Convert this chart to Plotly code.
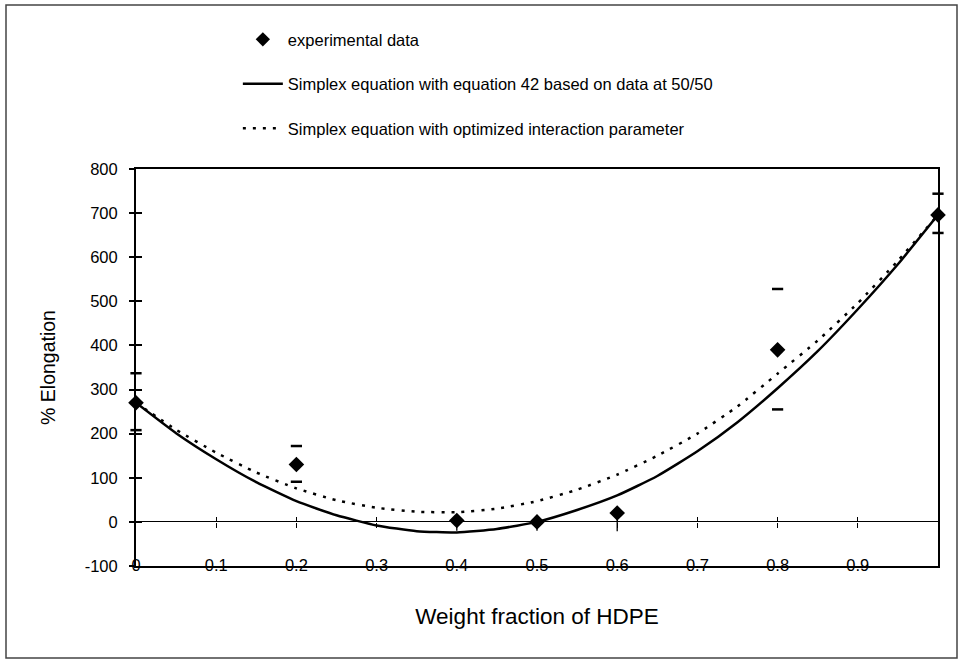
import plotly.graph_objects as go

# ---- data ----
exp_x = [0.0, 0.2, 0.4, 0.5, 0.6, 0.8, 1.0]
exp_y = [270, 130, 3, 0, 20, 390, 696]
exp_err_hi = [67, 42, None, None, None, 138, 48]
exp_err_lo = [62, 39, None, None, None, 135, 41]
exp_stem = [0, 0, 23, 20, 41, 0, 0]

curve_x = [0.0, 0.05, 0.1, 0.15, 0.2, 0.25, 0.3, 0.35, 0.4, 0.45, 0.5,
           0.55, 0.6, 0.65, 0.7, 0.75, 0.8, 0.85, 0.9, 0.95, 1.0]
eq42_y = [270, 201, 142, 90, 47, 15, -8, -21, -24, -16, 0,
          27, 60, 104, 160, 226, 303, 387, 482, 584, 696]
opt_y = [270, 209, 157, 112, 76, 49, 32, 23, 22, 30, 47,
         73, 107, 150, 200, 262, 336, 411, 496, 592, 696]

x_tick_vals = [0, 0.1, 0.2, 0.3, 0.4, 0.5, 0.6, 0.7, 0.8, 0.9]
x_tick_text = ["0", "0.1", "0.2", "0.3", "0.4", "0.5", "0.6", "0.7", "0.8", "0.9"]
y_tick_vals = [-100, 0, 100, 200, 300, 400, 500, 600, 700, 800]
y_tick_text = ["-100", "0", "100", "200", "300", "400", "500", "600", "700", "800"]

FONT = "Arial, Liberation Sans, sans-serif"

fig = go.Figure()

# legend entry for experimental points
fig.add_trace(go.Scatter(x=[None], y=[None], mode="markers",
                         marker=dict(symbol="diamond", size=11, color="black"),
                         name="experimental data", legendgroup="a"))

# model curves
fig.add_trace(go.Scatter(x=curve_x, y=eq42_y, mode="lines",
                         line=dict(color="black", width=2.5, shape="spline", smoothing=0.5),
                         name="Simplex equation with equation 42 based on data at 50/50",
                         legendgroup="b", hoverinfo="skip"))
fig.add_trace(go.Scatter(x=curve_x, y=opt_y, mode="lines",
                         line=dict(color="black", width=2.5, dash="3px,7px",
                                   shape="spline", smoothing=0.5),
                         name="Simplex equation with optimized interaction parameter",
                         legendgroup="c", hoverinfo="skip"))

# stems below small points
fig.add_trace(go.Scatter(x=exp_x, y=exp_y, mode="markers",
                         marker=dict(size=1, color="rgba(0,0,0,0)"),
                         error_y=dict(type="data", symmetric=False,
                                      array=[0] * len(exp_x), arrayminus=exp_stem,
                                      color="black", thickness=1.3, width=0),
                         showlegend=False, hoverinfo="skip"))

# error caps (drawn as short dashes)
cap_x, cap_y = [], []
for xv, yv, hi, lo in zip(exp_x, exp_y, exp_err_hi, exp_err_lo):
    if hi is not None:
        cap_x += [xv, xv]
        cap_y += [yv + hi, yv - lo]
fig.add_trace(go.Scatter(x=cap_x, y=cap_y, mode="markers",
                         marker=dict(symbol="line-ew", size=8,
                                     line=dict(color="black", width=2.5)),
                         showlegend=False, hoverinfo="skip", cliponaxis=False))

# experimental points
fig.add_trace(go.Scatter(x=exp_x, y=exp_y, mode="markers",
                         marker=dict(symbol="diamond", size=12, color="black"),
                         name="experimental data", legendgroup="a",
                         showlegend=False, cliponaxis=False))

# dummy traces so overlay axes (crossing ticks) are drawn
fig.add_trace(go.Scatter(x=[None], y=[None], xaxis="x2", showlegend=False, hoverinfo="skip"))
fig.add_trace(go.Scatter(x=[None], y=[None], xaxis="x3", showlegend=False, hoverinfo="skip"))
fig.add_trace(go.Scatter(x=[None], y=[None], yaxis="y2", showlegend=False, hoverinfo="skip"))

zero_pos = (0 - (-100)) / 900.0

fig.update_layout(
    width=959, height=660,
    margin=dict(l=136, r=21, t=169, b=94),
    paper_bgcolor="white", plot_bgcolor="white",
    font=dict(family=FONT, color="black"),
    showlegend=True,
    legend=dict(x=0.127, y=1.37, xanchor="left", yanchor="top",
                font=dict(size=16.5, family=FONT, color="black"), tracegroupgap=20,
                bgcolor="rgba(0,0,0,0)", itemwidth=40),
    xaxis=dict(range=[0, 1], showgrid=False, zeroline=False,
               showline=True, linecolor="black", linewidth=2, mirror=True,
               tickvals=x_tick_vals, ticktext=x_tick_text, ticks="",
               ticklabelstandoff=-17,
               tickfont=dict(size=16.5, family=FONT, color="black"),
               title=dict(text="Weight fraction of HDPE",
                          font=dict(size=22.5, family=FONT, color="black"),
                          standoff=35)),
    xaxis2=dict(range=[0, 1], overlaying="x", anchor="free", position=zero_pos,
                showgrid=False, zeroline=False, showline=False,
                tickvals=x_tick_vals[1:], ticks="outside", ticklen=5,
                tickwidth=1, tickcolor="black", showticklabels=False),
    xaxis3=dict(range=[0, 1], overlaying="x", anchor="free", position=zero_pos,
                showgrid=False, zeroline=False, showline=False,
                tickvals=x_tick_vals[1:], ticks="inside", ticklen=5,
                tickwidth=1, tickcolor="black", showticklabels=False),
    yaxis=dict(range=[-100, 800], showgrid=False,
               zeroline=True, zerolinecolor="black", zerolinewidth=1,
               showline=True, linecolor="black", linewidth=2, mirror=True,
               tickvals=y_tick_vals, ticktext=y_tick_text, ticks="inside", ticklen=6,
               tickwidth=1.5, tickcolor="black",
               tickfont=dict(size=16.5, family=FONT, color="black"),
               ticklabelstandoff=13,
               title=dict(text="% Elongation",
                          font=dict(size=19.5, family=FONT, color="black"),
                          standoff=24)),
    yaxis2=dict(range=[-100, 800], overlaying="y", showgrid=False, zeroline=False,
                showline=False, tickvals=y_tick_vals, ticks="outside", ticklen=6,
                tickwidth=1.5, tickcolor="black", showticklabels=False),
    shapes=[dict(type="rect", xref="paper", yref="paper",
                 x0=(6 - 136) / 802, x1=(957 - 136) / 802,
                 y0=-(658 - 566) / 397, y1=1 + (169 - 5) / 397,
                 line=dict(color="#444", width=1.5), layer="below")],
)

fig.write_html("out.html", config={"displayModeBar": False},
               post_script="document.body.style.margin='0';")
